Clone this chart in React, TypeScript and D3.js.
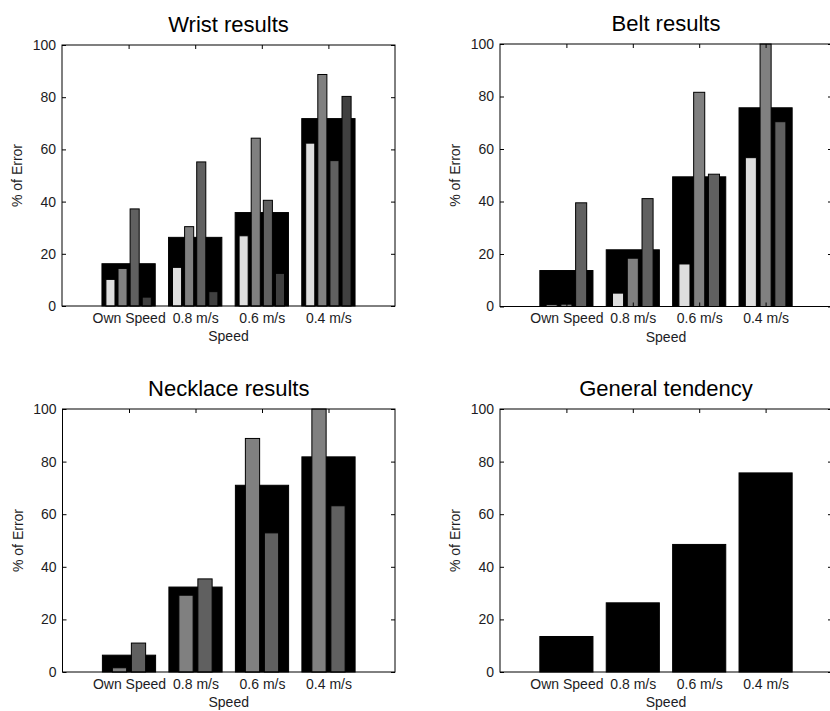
import { useEffect, useRef } from "react";
import * as d3 from "d3";

// categories on the x axis
const categories = ["Own Speed", "0.8 m/s", "0.6 m/s", "0.4 m/s"];
const yTicks = [0, 20, 40, 60, 80, 100];

// wrist: mean (wide black bar) + four subjects
const wristMean = [16.2, 26.3, 35.8, 71.8];
const wristA = [10.2, 14.8, 26.9, 62.4];
const wristB = [14.4, 30.4, 64.3, 88.7];
const wristC = [37.2, 55.2, 40.5, 55.7];
const wristD = [3.4, 5.5, 12.5, 80.3];

// belt: mean + three subjects
const beltMean = [13.7, 21.6, 49.4, 75.7];
const beltA = [0.6, 5.1, 16.2, 56.7];
const beltB = [0.9, 18.4, 81.6, 100];
const beltC = [39.5, 41.1, 50.4, 70.4];

// necklace: mean + two subjects
const necklaceMean = [6.4, 32.3, 71.0, 81.8];
const necklaceA = [1.6, 29.2, 88.8, 100];
const necklaceB = [11.0, 35.4, 52.9, 63.2];

// general tendency
const generalMean = [13.5, 26.3, 48.5, 75.7];

const FONT = "'Liberation Sans', Arial, sans-serif";
const TEXT = "#1c1c24";

type Panel = {
  title: string;
  mean: number[];
  series: number[][];
  colors: string[];
  box: { left: number; right: number; top: number; bottom: number };
};

const panels: Panel[] = [
  {
    title: "Wrist results",
    mean: wristMean,
    series: [wristA, wristB, wristC, wristD],
    colors: ["#dedede", "#808080", "#606060", "#404040"],
    box: { left: 62, right: 395, top: 45, bottom: 306 },
  },
  {
    title: "Belt results",
    mean: beltMean,
    series: [beltA, beltB, beltC],
    colors: ["#dedede", "#808080", "#606060"],
    box: { left: 500, right: 832, top: 44, bottom: 306.5 },
  },
  {
    title: "Necklace results",
    mean: necklaceMean,
    series: [necklaceA, necklaceB],
    colors: ["#808080", "#606060"],
    box: { left: 62.5, right: 395, top: 409, bottom: 672 },
  },
  {
    title: "General tendency",
    mean: generalMean,
    series: [],
    colors: [],
    box: { left: 500, right: 832, top: 409, bottom: 672 },
  },
];

export default function App() {
  const ref = useRef<SVGSVGElement>(null);

  useEffect(() => {
    const svg = d3.select(ref.current);
    svg.selectAll("*").remove();

    panels.forEach((p) => {
      const { left, right, top, bottom } = p.box;
      const x = d3.scaleLinear().domain([0, 5]).range([left, right]);
      const y = d3.scaleLinear().domain([0, 100]).range([bottom, top]);
      const unit = x(1) - x(0);
      const g = svg.append("g");

      // white axes background + frame drawn later
      g.append("rect")
        .attr("x", left)
        .attr("y", top)
        .attr("width", right - left)
        .attr("height", bottom - top)
        .attr("fill", "white");

      // wide black mean bars
      g.selectAll(".mean")
        .data(p.mean)
        .enter()
        .append("rect")
        .attr("x", (_, i) => x(i + 1 - 0.4))
        .attr("width", 0.8 * unit)
        .attr("y", (d) => y(d))
        .attr("height", (d) => y(0) - y(d))
        .attr("fill", "#000")
        .attr("stroke", "#000");

      // narrow grouped bars
      const n = p.series.length;
      if (n > 0) {
        const groupWidth = Math.min(0.8, n / (n + 1.5));
        const step = groupWidth / n;
        const w = step * 0.75;
        p.series.forEach((s, k) => {
          const off = (k - (n - 1) / 2) * step;
          g.selectAll(".s" + k)
            .data(s)
            .enter()
            .append("rect")
            .attr("x", (_, i) => x(i + 1 + off - w / 2))
            .attr("width", w * unit)
            .attr("y", (d) => y(d))
            .attr("height", (d) => y(0) - y(d))
            .attr("fill", p.colors[k])
            .attr("stroke", "#000")
            .attr("stroke-width", 1);
        });
      }

      // axes with inward ticks
      const yLeft = g
        .append("g")
        .attr("transform", `translate(${left},0)`)
        .call(d3.axisLeft(y).tickValues(yTicks).tickSize(-4).tickPadding(6));
      g.append("g")
        .attr("transform", `translate(${right},0)`)
        .call(d3.axisRight(y).tickValues(yTicks).tickSize(-4).tickFormat(() => ""));
      const xBottom = g
        .append("g")
        .attr("transform", `translate(0,${bottom})`)
        .call(
          d3
            .axisBottom(x)
            .tickValues([1, 2, 3, 4])
            .tickSize(-4)
            .tickPadding(7)
            .tickFormat((d) => categories[(d as number) - 1])
        );
      g.append("g")
        .attr("transform", `translate(0,${top})`)
        .call(d3.axisTop(x).tickValues([1, 2, 3, 4]).tickSize(-4).tickFormat(() => ""));

      g.selectAll(".domain").remove();
      g.selectAll(".tick line").attr("stroke", "#000");
      [yLeft, xBottom].forEach((a) =>
        a
          .selectAll("text")
          .attr("font-family", FONT)
          .attr("font-size", 14)
          .attr("fill", TEXT)
      );

      // frame
      g.append("rect")
        .attr("x", left)
        .attr("y", top)
        .attr("width", right - left)
        .attr("height", bottom - top)
        .attr("fill", "none")
        .attr("stroke", "#000")
        .attr("stroke-width", 1);

      // title
      g.append("text")
        .attr("x", (left + right) / 2)
        .attr("y", top - 13)
        .attr("text-anchor", "middle")
        .attr("font-family", FONT)
        .attr("font-size", 22)
        .attr("fill", "#000")
        .text(p.title);

      // x label
      g.append("text")
        .attr("x", (left + right) / 2)
        .attr("y", bottom + 35)
        .attr("text-anchor", "middle")
        .attr("font-family", FONT)
        .attr("font-size", 14)
        .attr("fill", TEXT)
        .text("Speed");

      // y label
      g.append("text")
        .attr("transform", `translate(${left - 40},${(top + bottom) / 2}) rotate(-90)`)
        .attr("text-anchor", "middle")
        .attr("font-family", FONT)
        .attr("font-size", 14)
        .attr("fill", TEXT)
        .text("% of Error");
    });
  }, []);

  return (
    <svg
      ref={ref}
      width={830}
      height={711}
      style={{ position: "absolute", left: 0, top: 0, background: "white" }}
    />
  );
}
